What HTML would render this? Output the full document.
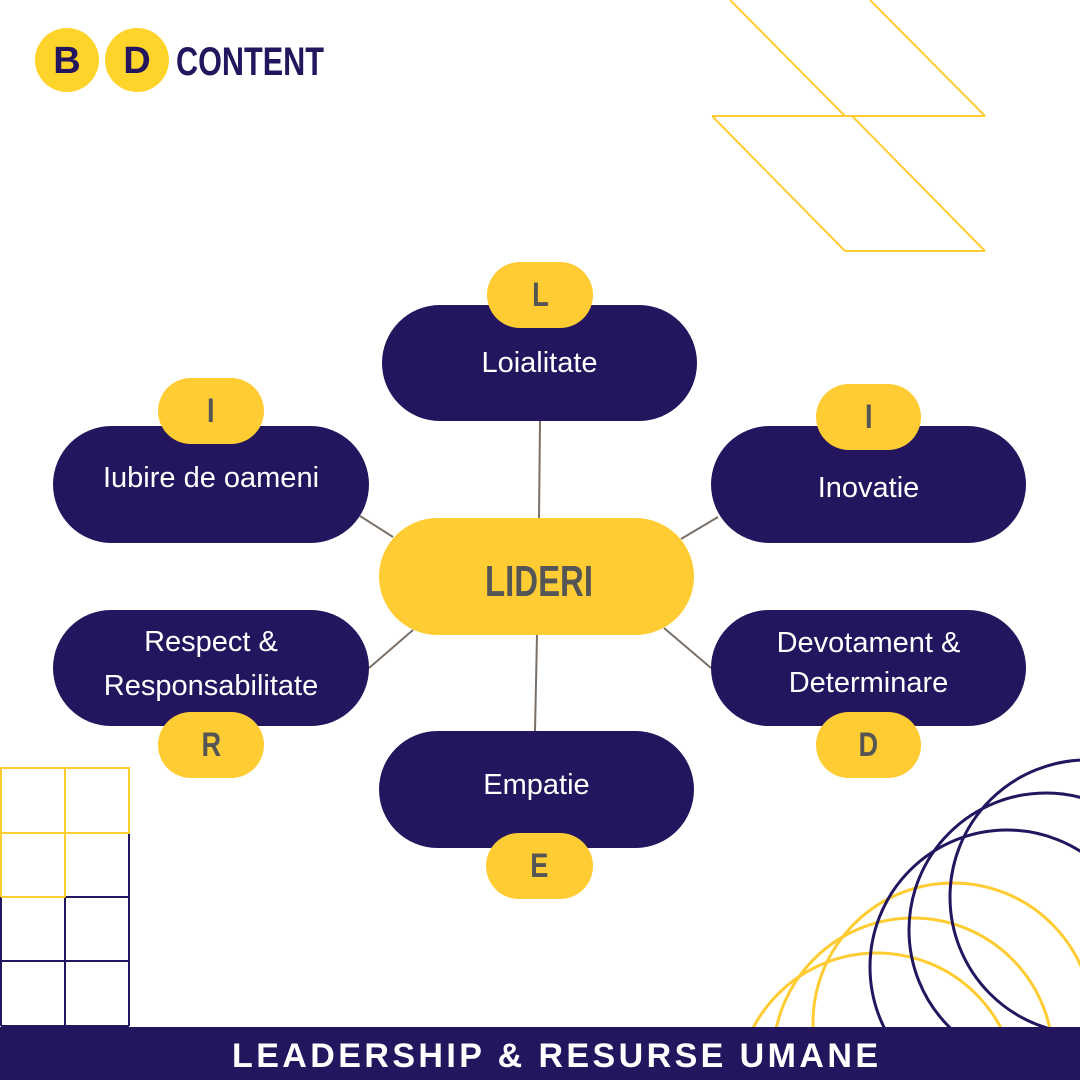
<!DOCTYPE html>
<html style="overflow:hidden"><head><meta charset="utf-8"><style>
html,body{margin:0;width:1080px;height:1080px;overflow:hidden}
body{background:#fff;position:relative;font-family:"Liberation Sans",sans-serif}
.p{position:absolute;border-radius:60px;background:#24155f;color:#fff;display:flex;align-items:center;justify-content:center;text-align:center;font-size:29px;line-height:40px;box-sizing:border-box}
.b{position:absolute;border-radius:34px;background:#ffcc33;color:#555;display:flex;align-items:center;justify-content:center;font-weight:bold;font-size:34px}
.b span{display:inline-block;transform:scaleX(0.8)}
</style></head><body>
<svg width="1080" height="1080" style="position:absolute;left:0;top:0;display:block">
<g stroke="#ffcc33" stroke-width="2" fill="none">
<path d="M730 0 L845 116 M870 0 L985 116 M712 116 L985 116 M712 116 L845 251 M852 116 L985 251 M845 251 L985 251"/>
<circle cx="953" cy="1023" r="140" stroke-width="3"/>
<circle cx="913" cy="1058" r="140" stroke-width="3"/>
<circle cx="877" cy="1093" r="140" stroke-width="3"/>
</g>
<g stroke="#24155f" stroke-width="3" fill="none">
<circle cx="1087" cy="897" r="137"/>
<circle cx="1046" cy="930" r="137"/>
<circle cx="1007" cy="967" r="137"/>
</g>
<g stroke="#24155f" stroke-width="2" fill="none">
<path d="M1 897 H129 M1 961 H129 M1 1026 H129 M65 833 V1026 M129 833 V1026 M1 833 V1026"/>
</g>
<g stroke="#ffcc33" stroke-width="2" fill="none">
<path d="M1 768 H129 V833 H1 Z M65 768 V897 M1 768 V897 M1 897 H65"/>
</g>
<g stroke="#7a7068" stroke-width="2">
<line x1="540" y1="421" x2="539" y2="518"/>
<line x1="360" y1="516" x2="393" y2="537"/>
<line x1="718" y1="517" x2="681" y2="539"/>
<line x1="369" y1="668" x2="413" y2="630"/>
<line x1="711" y1="668" x2="664" y2="628"/>
<line x1="537" y1="635" x2="535" y2="731"/>
</g>
<rect x="0" y="1027" width="1080" height="53" fill="#24155f"/>
<circle cx="67" cy="60" r="32" fill="#ffd42a"/>
<circle cx="137" cy="60" r="32" fill="#ffd42a"/>
<g font-family="Liberation Sans,sans-serif" font-weight="bold" fill="#24155f">
<text x="67" y="73" font-size="38" text-anchor="middle">B</text>
<text x="137" y="73" font-size="38" text-anchor="middle">D</text>
<text x="176" y="75" font-size="40" textLength="148" lengthAdjust="spacingAndGlyphs">CONTENT</text>
</g>
<text x="555" y="1067" fill="#fff" font-family="Liberation Sans,sans-serif" font-weight="bold" font-size="34" text-anchor="middle" textLength="646" lengthAdjust="spacing">LEADERSHIP &amp; RESURSE UMANE</text>
<rect x="379" y="518" width="315" height="117" rx="58.5" fill="#ffcc33"/>
<text x="539" y="596" fill="#555" font-family="Liberation Sans,sans-serif" font-weight="bold" font-size="44" text-anchor="middle" textLength="108" lengthAdjust="spacingAndGlyphs">LIDERI</text>
</svg>
<div class="p" style="left:382px;top:305px;width:315px;height:116px">Loialitate</div>
<div class="p" style="left:53px;top:426px;width:316px;height:117px;padding-bottom:14px">Iubire de oameni</div>
<div class="p" style="left:711px;top:426px;width:315px;height:117px;padding-top:6px">Inovatie</div>
<div class="p" style="left:53px;top:610px;width:316px;height:116px;line-height:44px;padding-bottom:8px">Respect &amp;<br>Responsabilitate</div>
<div class="p" style="left:711px;top:610px;width:315px;height:116px;padding-bottom:10px">Devotament &amp;<br>Determinare</div>
<div class="p" style="left:379px;top:731px;width:315px;height:117px;padding-bottom:10px">Empatie</div>
<div class="b" style="left:487px;top:262px;width:106px;height:66px"><span>L</span></div>
<div class="b" style="left:158px;top:378px;width:106px;height:66px"><span>I</span></div>
<div class="b" style="left:816px;top:384px;width:105px;height:66px"><span>I</span></div>
<div class="b" style="left:158px;top:712px;width:106px;height:66px"><span>R</span></div>
<div class="b" style="left:816px;top:712px;width:105px;height:66px"><span>D</span></div>
<div class="b" style="left:486px;top:833px;width:107px;height:66px"><span>E</span></div>
</body></html>
